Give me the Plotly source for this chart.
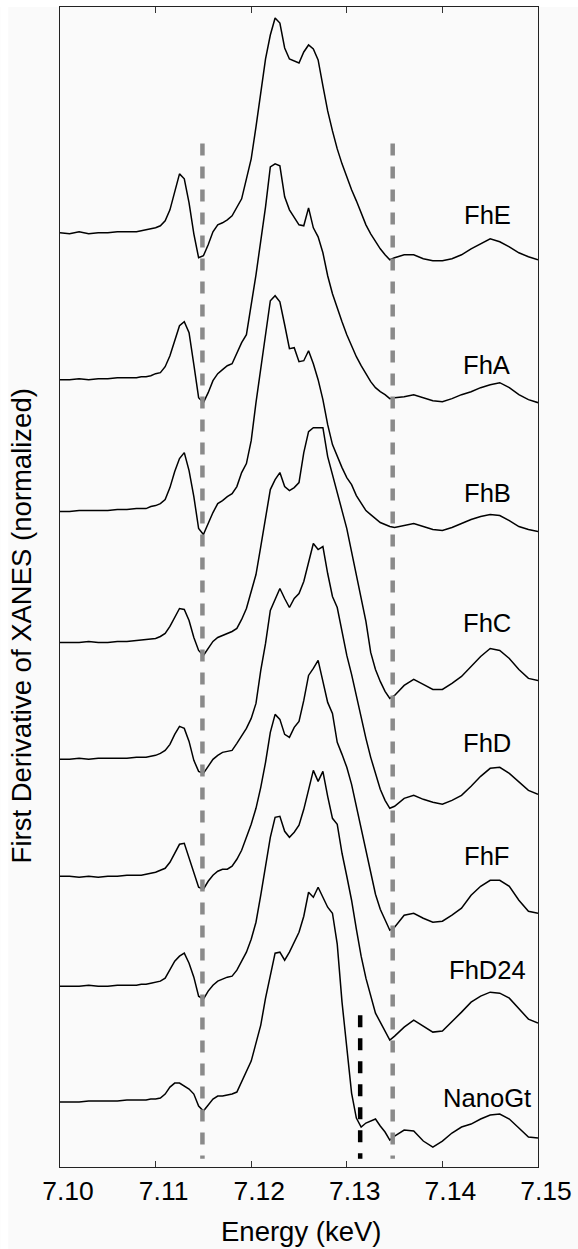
import plotly.graph_objects as go

# ---------------- data ----------------
energy_kev = [
    7.100, 7.101, 7.102, 7.103, 7.104, 7.105, 7.106, 7.107, 7.108,
    7.1085, 7.109, 7.1095, 7.110, 7.1105, 7.111, 7.1115, 7.112, 7.1125,
    7.113, 7.1135, 7.114, 7.1145, 7.115, 7.1155, 7.116, 7.1165, 7.117,
    7.1175, 7.118, 7.1185, 7.119, 7.1195, 7.120, 7.1205, 7.121, 7.1215,
    7.122, 7.1225, 7.123, 7.1235, 7.124, 7.1245, 7.125, 7.1255, 7.126,
    7.1265, 7.127, 7.1275, 7.128, 7.1285, 7.129, 7.1295, 7.130, 7.1305,
    7.131, 7.1315, 7.132, 7.1325, 7.133, 7.1335, 7.134, 7.1345, 7.135,
    7.136, 7.137, 7.138, 7.139, 7.140, 7.141, 7.142, 7.143, 7.144,
    7.145, 7.146, 7.147, 7.148, 7.149, 7.150,
]

fhe = [
    0.00, -0.01, 0.01, -0.01, 0.00, 0.00, 0.01, 0.01, 0.01,
    0.02, 0.03, 0.04, 0.05, 0.07, 0.12, 0.23, 0.42, 0.59,
    0.54, 0.30, -0.01, -0.25, -0.23, -0.12, 0.01, 0.08, 0.10,
    0.13, 0.17, 0.25, 0.34, 0.54, 0.74, 1.06, 1.39, 1.74,
    1.98, 2.15, 2.10, 1.85, 1.74, 1.72, 1.70, 1.81, 1.88,
    1.84, 1.73, 1.47, 1.22, 1.02, 0.84, 0.69, 0.55, 0.43,
    0.32, 0.20, 0.08, -0.01, -0.09, -0.16, -0.22, -0.27, -0.25,
    -0.22, -0.22, -0.26, -0.28, -0.28, -0.26, -0.22, -0.16, -0.11,
    -0.06, -0.09, -0.14, -0.20, -0.24, -0.27,
]

fha = [
    0.00, 0.00, 0.01, 0.00, 0.01, 0.01, 0.02, 0.02, 0.02,
    0.03, 0.03, 0.04, 0.06, 0.07, 0.13, 0.24, 0.39, 0.54,
    0.58, 0.47, 0.15, -0.18, -0.23, -0.13, -0.01, 0.06, 0.10,
    0.14, 0.16, 0.27, 0.37, 0.45, 0.74, 1.05, 1.39, 1.73,
    2.13, 2.16, 2.14, 1.83, 1.70, 1.62, 1.55, 1.54, 1.72,
    1.52, 1.43, 1.27, 1.04, 0.86, 0.71, 0.58, 0.45, 0.34,
    0.23, 0.14, 0.06, -0.02, -0.08, -0.12, -0.15, -0.19, -0.18,
    -0.17, -0.15, -0.18, -0.21, -0.22, -0.19, -0.15, -0.12, -0.08,
    -0.05, -0.03, -0.08, -0.15, -0.20, -0.23,
]

fhb = [
    0.00, 0.00, 0.01, 0.01, 0.01, 0.01, 0.02, 0.02, 0.03,
    0.03, 0.03, 0.05, 0.06, 0.08, 0.12, 0.24, 0.40, 0.53,
    0.59, 0.41, 0.15, -0.17, -0.23, -0.12, -0.01, 0.08, 0.11,
    0.15, 0.18, 0.25, 0.39, 0.48, 0.71, 1.09, 1.43, 1.77,
    2.11, 2.16, 2.10, 1.87, 1.63, 1.64, 1.50, 1.51, 1.61,
    1.48, 1.32, 1.12, 0.87, 0.67, 0.55, 0.44, 0.34, 0.27,
    0.16, 0.09, 0.01, -0.03, -0.07, -0.11, -0.13, -0.15, -0.16,
    -0.14, -0.12, -0.15, -0.18, -0.19, -0.16, -0.12, -0.08, -0.05,
    -0.03, -0.04, -0.09, -0.15, -0.18, -0.20,
]

fhc = [
    0.00, 0.00, 0.00, 0.01, 0.00, 0.00, 0.01, 0.01, 0.02,
    0.02, 0.03, 0.03, 0.04, 0.06, 0.09, 0.16, 0.25, 0.34,
    0.33, 0.22, 0.05, -0.08, -0.13, -0.06, 0.01, 0.05, 0.07,
    0.09, 0.11, 0.14, 0.23, 0.34, 0.50, 0.68, 0.96, 1.26,
    1.53, 1.63, 1.70, 1.56, 1.52, 1.55, 1.60, 1.90, 2.11,
    2.15, 2.15, 2.15, 1.86, 1.67, 1.50, 1.32, 1.14, 0.90,
    0.66, 0.43, 0.21, -0.10, -0.27, -0.39, -0.49, -0.56, -0.53,
    -0.43, -0.37, -0.42, -0.47, -0.47, -0.41, -0.34, -0.24, -0.14,
    -0.06, -0.08, -0.16, -0.27, -0.36, -0.38,
]

fhd = [
    0.00, 0.00, 0.01, 0.00, 0.01, 0.01, 0.01, 0.01, 0.02,
    0.02, 0.02, 0.03, 0.04, 0.06, 0.09, 0.15, 0.25, 0.33,
    0.31, 0.18, -0.01, -0.12, -0.14, -0.07, 0.00, 0.04, 0.07,
    0.08, 0.09, 0.16, 0.23, 0.31, 0.41, 0.56, 0.89, 1.16,
    1.49, 1.60, 1.71, 1.61, 1.52, 1.61, 1.66, 1.78, 1.96,
    2.16, 2.10, 2.13, 1.86, 1.63, 1.52, 1.29, 1.04, 0.85,
    0.63, 0.41, 0.21, 0.02, -0.15, -0.30, -0.41, -0.49, -0.47,
    -0.39, -0.36, -0.40, -0.43, -0.45, -0.41, -0.36, -0.27, -0.17,
    -0.09, -0.08, -0.14, -0.23, -0.31, -0.35,
]

fhf = [
    0.00, 0.00, -0.01, 0.00, -0.01, 0.00, 0.00, 0.01, 0.01,
    0.01, 0.02, 0.03, 0.04, 0.06, 0.08, 0.14, 0.23, 0.32,
    0.33, 0.18, 0.02, -0.11, -0.13, -0.05, 0.01, 0.05, 0.07,
    0.07, 0.10, 0.17, 0.26, 0.38, 0.52, 0.68, 0.89, 1.14,
    1.44, 1.62, 1.57, 1.42, 1.39, 1.49, 1.55, 1.76, 2.01,
    2.08, 2.16, 1.95, 1.74, 1.63, 1.34, 1.22, 1.09, 0.92,
    0.70, 0.46, 0.24, 0.02, -0.18, -0.33, -0.44, -0.54, -0.51,
    -0.39, -0.37, -0.42, -0.46, -0.45, -0.39, -0.32, -0.19, -0.10,
    -0.04, -0.04, -0.10, -0.24, -0.35, -0.37,
]

fhd24 = [
    0.00, 0.00, 0.00, 0.01, 0.00, 0.00, 0.01, 0.01, 0.01,
    0.02, 0.02, 0.03, 0.04, 0.05, 0.08, 0.16, 0.25, 0.30,
    0.33, 0.23, 0.09, -0.10, -0.13, -0.05, 0.01, 0.05, 0.07,
    0.09, 0.10, 0.16, 0.25, 0.34, 0.47, 0.64, 0.91, 1.20,
    1.49, 1.69, 1.70, 1.55, 1.49, 1.54, 1.61, 1.77, 1.96,
    2.16, 2.05, 2.15, 1.90, 1.68, 1.62, 1.33, 1.10, 0.86,
    0.57, 0.30, 0.08, -0.11, -0.27, -0.36, -0.45, -0.54, -0.50,
    -0.41, -0.34, -0.40, -0.46, -0.45, -0.36, -0.26, -0.16, -0.10,
    -0.06, -0.07, -0.12, -0.23, -0.33, -0.37,
]

nanogt = [
    0.00, 0.00, 0.00, 0.01, 0.01, 0.01, 0.01, 0.02, 0.02,
    0.02, 0.02, 0.03, 0.03, 0.04, 0.08, 0.15, 0.19, 0.19,
    0.16, 0.13, 0.08, -0.04, -0.09, -0.03, 0.03, 0.06, 0.06,
    0.07, 0.08, 0.10, 0.20, 0.30, 0.41, 0.59, 0.77, 1.04,
    1.27, 1.49, 1.50, 1.42, 1.50, 1.60, 1.70, 1.86, 2.10,
    2.05, 2.15, 2.05, 1.95, 1.89, 1.58, 1.00, 0.53, 0.09,
    -0.16, -0.25, -0.21, -0.19, -0.17, -0.24, -0.30, -0.38, -0.34,
    -0.28, -0.29, -0.39, -0.45, -0.39, -0.31, -0.25, -0.22, -0.17,
    -0.13, -0.12, -0.17, -0.26, -0.35, -0.36,
]

sample_names = ["FhE", "FhA", "FhB", "FhC", "FhD", "FhF", "FhD24", "NanoGt"]
sample_series = [fhe, fha, fhb, fhc, fhd, fhf, fhd24, nanogt]
stack_offsets = [9.35, 7.88, 6.56, 5.25, 4.08, 2.91, 1.81, 0.65]

gray_ref_energies = [7.1149, 7.1348]
black_ref_energies = [7.1314]

x_tick_values = [7.10, 7.11, 7.12, 7.13, 7.14, 7.15]
x_tick_text = ["7.10", "7.11", "7.12", "7.13", "7.14", "7.15"]

# ---------------- layout constants ----------------
FONT = "Liberation Sans, Arial, Helvetica, sans-serif"
BG = "#fafafa"
W, H = 578, 1249
ML, MR, MT, MB = 60, 37, 6, 82
Y_RANGE = [0, 11.61]
label_x = 7.1447
label_y = [9.526, 8.026, 6.749, 5.442, 4.242, 3.109, 1.976, 0.689]

fig = go.Figure()

for name, vals, off in zip(sample_names, sample_series, stack_offsets):
    fig.add_trace(go.Scatter(
        x=energy_kev, y=[v + off for v in vals], mode="lines", name=name,
        line=dict(color="black", width=1.5), showlegend=False, hoverinfo="skip",
    ))

for e in gray_ref_energies:
    fig.add_trace(go.Scatter(
        x=[e, e], y=[10.243, 0.083], mode="lines",
        line=dict(color="#8a8a8a", width=4.5, dash="12px,11px"),
        showlegend=False, hoverinfo="skip",
    ))
for e in black_ref_energies:
    fig.add_trace(go.Scatter(
        x=[e, e], y=[1.52, 0.083], mode="lines",
        line=dict(color="black", width=4.5, dash="12px,11px"),
        showlegend=False, hoverinfo="skip",
    ))

annotations = []
for name, ly in zip(sample_names, label_y):
    annotations.append(dict(
        x=label_x, y=ly, xref="x", yref="y", text=name, showarrow=False,
        xanchor="center", yanchor="middle",
        font=dict(family=FONT, size=25.6, color="black"),
    ))

plot_w = W - ML - MR
plot_h = H - MT - MB
annotations.append(dict(
    x=(302.5 - ML) / plot_w, y=(H - MB - 1231.5) / plot_h,
    xref="paper", yref="paper", text="Energy (keV)", showarrow=False,
    xanchor="center", yanchor="middle",
    font=dict(family=FONT, size=27.5, color="black"),
))
annotations.append(dict(
    x=(21.7 - ML) / plot_w, y=(H - MB - 625) / plot_h,
    xref="paper", yref="paper", text="First Derivative of XANES (normalized)",
    showarrow=False, textangle=-90, xanchor="center", yanchor="middle",
    font=dict(family=FONT, size=27.5, color="black"),
))

shapes = [
    dict(type="rect", xref="paper", yref="paper", x0=-0.5, x1=1.5,
         y0=1.0, y1=1.0 + 8 / plot_h, fillcolor="white",
         line=dict(width=0), layer="below"),
    dict(type="rect", xref="paper", yref="paper", x0=-ML / plot_w,
         x1=(8 - ML) / plot_w, y0=-0.2, y1=1.1, fillcolor="white",
         line=dict(width=0), layer="below"),
]

fig.update_layout(
    width=W, height=H,
    margin=dict(l=ML, r=MR, t=MT, b=MB, pad=0),
    paper_bgcolor=BG, plot_bgcolor=BG,
    showlegend=False,
    annotations=annotations,
    shapes=shapes,
    xaxis=dict(
        range=[7.10, 7.15], tickmode="array", tickvals=x_tick_values,
        ticktext=x_tick_text, ticks="inside", ticklen=6, tickwidth=1.2,
        tickcolor="#333333", showline=True, linecolor="#222222", linewidth=1.4,
        mirror="ticks", showgrid=False, zeroline=False,
        tickfont=dict(family=FONT, size=26.5, color="black"),
        ticklabelshift=8,
    ),
    yaxis=dict(
        range=Y_RANGE, showticklabels=False, ticks="", showline=True,
        linecolor="#222222", linewidth=1.4, mirror=True,
        showgrid=False, zeroline=False,
    ),
)

fig.write_html("out.html")
